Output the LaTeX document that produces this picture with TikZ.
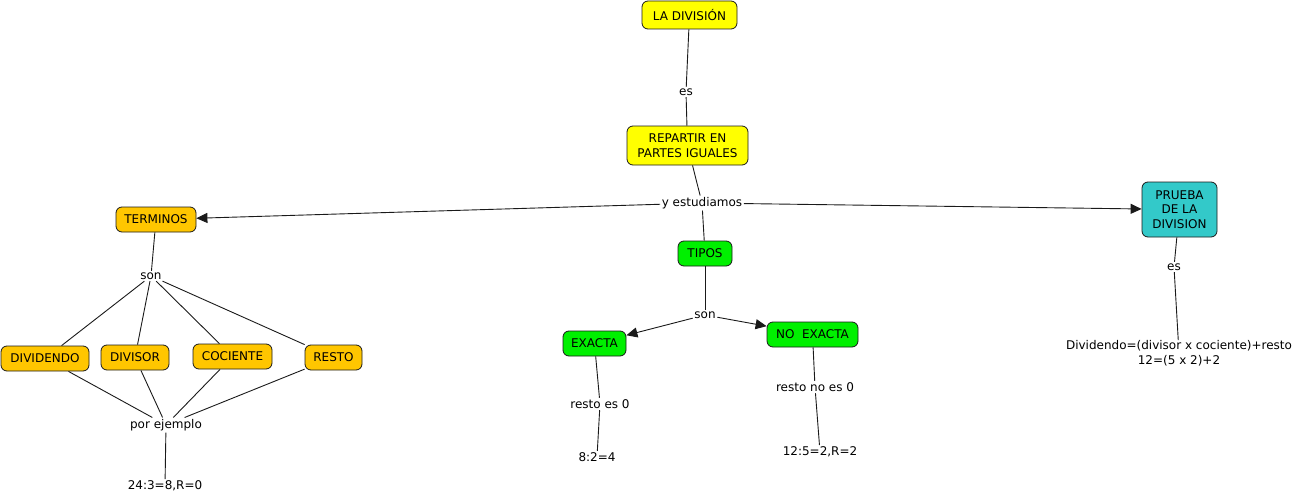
\documentclass[tikz,border=0pt]{standalone}
\usepackage{fontspec}
\setmainfont{DejaVu Sans}
\usetikzlibrary{arrows.meta}
\definecolor{cyel}{HTML}{FFFF00}
\definecolor{corg}{HTML}{FFC600}
\definecolor{cgrn}{HTML}{00F000}
\definecolor{ctea}{HTML}{33C9C9}
\definecolor{cline}{HTML}{1A1A1A}
\tikzset{
  concept/.style={draw=cline, line width=0.8pt, rounded corners=6pt, inner sep=2pt,
    font=\fontsize{12}{14.5}\selectfont, text=black, align=center},
  lbl/.style={inner sep=1.5pt, font=\fontsize{12}{14.5}\selectfont, align=center},
  link/.style={draw=cline, line width=0.9pt},
  arr/.style={link, -{Triangle[length=11pt,width=10pt]}},
}
\begin{document}
\begin{tikzpicture}[x=1pt,y=-1pt]
\useasboundingbox (0,0) rectangle (1302,503);
% concepts
\node[concept, fill=cyel, minimum width=95pt, minimum height=28pt] (div) at (689.5,15) {LA DIVISIÓN};
\node[concept, fill=cyel, minimum width=121pt, minimum height=39pt] (rep) at (687.5,145.5) {REPARTIR EN\\PARTES IGUALES};
\node[concept, fill=corg, minimum width=80pt, minimum height=25pt] (ter) at (156,219.5) {TERMINOS};
\node[concept, fill=ctea, minimum width=75pt, minimum height=55pt] (pru) at (1179.5,209.5) {PRUEBA\\DE LA\\DIVISION};
\node[concept, fill=cgrn, minimum width=54pt, minimum height=25pt] (tip) at (705,253.5) {TIPOS};
\node[concept, fill=cgrn, minimum width=63pt, minimum height=25pt] (exa) at (594.5,343.5) {EXACTA};
\node[concept, fill=cgrn, minimum width=91pt, minimum height=25pt] (noe) at (812.5,334.5) {NO\ \ EXACTA};
\node[concept, fill=corg, minimum width=88pt, minimum height=25pt] (dvd) at (45,358.5) {DIVIDENDO};
\node[concept, fill=corg, minimum width=68pt, minimum height=25pt] (dvs) at (135,357.5) {DIVISOR};
\node[concept, fill=corg, minimum width=79pt, minimum height=25pt] (coc) at (232.5,356.5) {COCIENTE};
\node[concept, fill=corg, minimum width=57pt, minimum height=25pt] (res) at (333.5,357.5) {RESTO};
% labels / leaf texts
\node[lbl] (l1) at (686,92) {es};
\node[lbl] (l2) at (702,203) {y estudiamos};
\node[lbl] (l3) at (705,315) {son};
\node[lbl] (l4) at (600,404) {resto es 0};
\node[lbl] (t1) at (597,457) {8:2=4};
\node[lbl] (l5) at (815,387) {resto no es 0};
\node[lbl] (t2) at (820,452) {12:5=2,R=2};
\node[lbl] (l6) at (151,276) {son};
\node[lbl] (l7) at (166,425) {por ejemplo};
\node[lbl] (t3) at (165,486) {24:3=8,R=0};
\node[lbl] (l8) at (1174,267) {es};
\node[lbl, inner sep=0pt] (t4) at (1179,353) {Dividendo=(divisor x cociente)+resto\\12=(5 x 2)+2};
% connectors
\draw[link] (div) -- (l1);
\draw[link] (l1) -- (rep);
\draw[link] (rep) -- (l2);
\draw[arr] (l2) -- (ter);
\draw[arr] (l2) -- (pru);
\draw[link] (l2) -- (tip);
\draw[link] (tip) -- (l3);
\draw[arr] (l3) -- (exa);
\draw[arr] (l3) -- (noe);
\draw[link] (exa) -- (l4);
\draw[link] (l4) -- (t1);
\draw[link] (noe) -- (l5);
\draw[link] (l5) -- (t2);
\draw[link] (ter) -- (l6);
\draw[link] (l6) -- (dvd);
\draw[link] (l6) -- (dvs);
\draw[link] (l6) -- (coc);
\draw[link] (l6) -- (res);
\draw[link] (dvd) -- (l7);
\draw[link] (dvs) -- (l7);
\draw[link] (coc) -- (l7);
\draw[link] (res) -- (l7);
\draw[link] (l7) -- (t3);
\draw[link] (pru) -- (l8);
\draw[link] (l8) -- (t4);
\end{tikzpicture}
\end{document}
